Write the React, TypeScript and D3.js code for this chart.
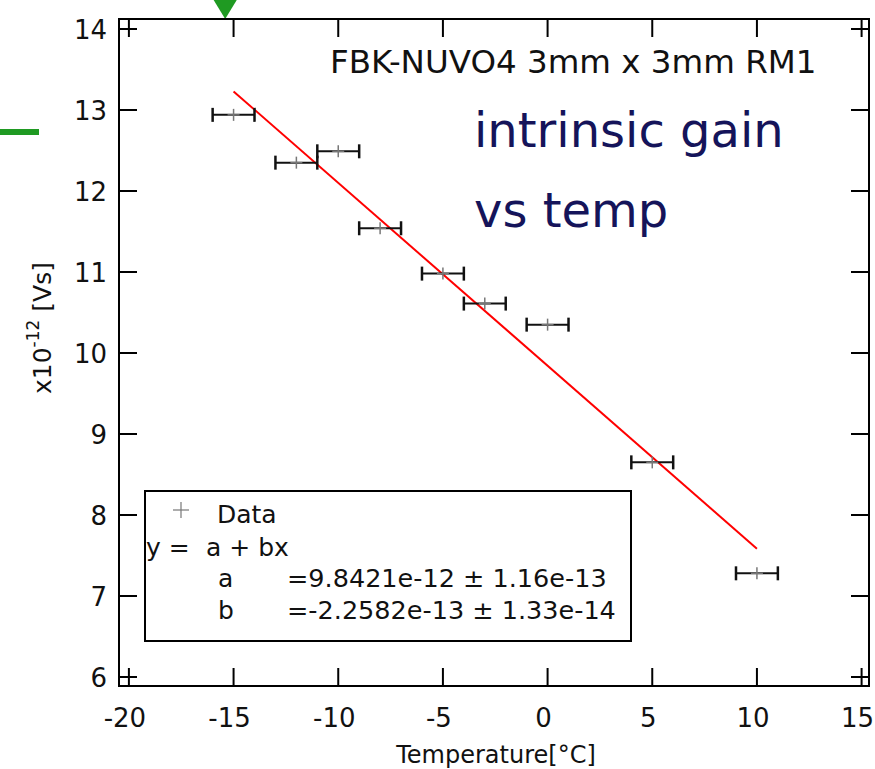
import React from "react";
import * as d3 from "d3";

const temps = [-15, -12, -10, -8, -5, -3, 0, 5, 10];
const gains = [12.94, 12.35, 12.49, 11.54, 10.98, 10.61, 10.35, 8.65, 7.28];
const tempErr = [1, 1, 1, 1, 1, 1, 1, 1, 1];
const xTicks = [-20, -15, -10, -5, 0, 5, 10, 15];
const yTicks = [6, 7, 8, 9, 10, 11, 12, 13, 14];
const fitA = 9.8421;
const fitB = -0.22582;
const fitRange = [-15, 10];
const legendLines = [
  "=9.8421e-12 ± 1.16e-13",
  "=-2.2582e-13 ± 1.33e-14",
];

const W = 875;
const H = 769;
const frame = { left: 119, right: 869, top: 19, bottom: 686 };
const FONT = "'DejaVu Sans', Verdana, sans-serif";

export default function App() {
  const x = d3.scaleLinear().domain([-20, 15]).range([128.9, 861.6]);
  const y = d3.scaleLinear().domain([6, 14]).range([677, 29]);
  const tl = 18;
  const line = d3
    .line<number>()
    .x((t) => x(t))
    .y((t) => y(fitA + fitB * t));

  return (
    <svg
      width={W}
      height={H}
      style={{ position: "absolute", left: 0, top: 0, display: "block", background: "#fff" }}
      fontFamily={FONT}
    >
      <rect x={0} y={0} width={W} height={H} fill="#fff" />
      {/* green annotations */}
      <polygon points={`${x(-15.4) - 14},-4 ${x(-15.4) + 14},-4 ${x(-15.4)},19`} fill="#1f9a22" />
      <rect x={0} y={129} width={39} height={6} fill="#1f9a22" />

      {/* frame */}
      <rect
        x={frame.left}
        y={frame.top}
        width={frame.right - frame.left}
        height={frame.bottom - frame.top}
        fill="none"
        stroke="#000"
        strokeWidth={2}
      />
      {/* ticks */}
      {xTicks.map((t) => (
        <g key={"xt" + t} stroke="#000" strokeWidth={2}>
          <line x1={x(t)} x2={x(t)} y1={frame.bottom} y2={frame.bottom - tl} />
          <line x1={x(t)} x2={x(t)} y1={frame.top} y2={frame.top + tl} />
        </g>
      ))}
      {yTicks.map((t) => (
        <g key={"yt" + t} stroke="#000" strokeWidth={2}>
          <line x1={frame.left} x2={frame.left + tl} y1={y(t)} y2={y(t)} />
          <line x1={frame.right} x2={frame.right - tl} y1={y(t)} y2={y(t)} />
        </g>
      ))}
      {xTicks.map((t) => (
        <text key={"xl" + t} x={x(t) - 4} y={727} fontSize={26} textAnchor="middle" fill="#111">
          {t}
        </text>
      ))}
      {yTicks.map((t) => (
        <text key={"yl" + t} x={107} y={y(t) + 9.5} fontSize={26} textAnchor="end" fill="#111">
          {t}
        </text>
      ))}

      {/* axis titles */}
      <text x={496} y={763} fontSize={24} textAnchor="middle" fill="#111">
        Temperature[°C]
      </text>
      <text transform="translate(51,328) rotate(-90)" fontSize={25} textAnchor="middle" fill="#111">
        x10
        <tspan fontSize={17} dy={-12}>-12</tspan>
        <tspan dy={12}> [Vs]</tspan>
      </text>

      {/* fit line */}
      <path d={line(fitRange) || ""} stroke="#ff0000" strokeWidth={2} fill="none" />

      {/* data with x error bars */}
      {temps.map((t, i) => {
        const cx = x(t);
        const cy = y(gains[i]);
        const x0 = x(t - tempErr[i]);
        const x1 = x(t + tempErr[i]);
        return (
          <g key={"p" + i}>
            <line x1={x0} x2={x1} y1={cy} y2={cy} stroke="#111" strokeWidth={2} />
            <line x1={x0} x2={x0} y1={cy - 7} y2={cy + 7} stroke="#111" strokeWidth={2.5} />
            <line x1={x1} x2={x1} y1={cy - 7} y2={cy + 7} stroke="#111" strokeWidth={2.5} />
            <line x1={cx - 6} x2={cx + 6} y1={cy} y2={cy} stroke="#777" strokeWidth={1.5} />
            <line x1={cx} x2={cx} y1={cy - 6} y2={cy + 6} stroke="#777" strokeWidth={1.5} />
          </g>
        );
      })}

      {/* title texts */}
      <text x={330} y={73} fontSize={32.5} fill="#111">
        FBK-NUVO4 3mm x 3mm RM1
      </text>
      <text x={474} y={147} fontSize={48} fill="#15145a">
        intrinsic gain
      </text>
      <text x={474} y={227} fontSize={48} fill="#15145a">
        vs temp
      </text>

      {/* legend */}
      <rect x={145} y={491} width={486} height={150} fill="#fff" stroke="#000" strokeWidth={2} />
      <line x1={173} x2={189} y1={510} y2={510} stroke="#777" strokeWidth={1.2} />
      <line x1={181} x2={181} y1={502} y2={518} stroke="#777" strokeWidth={1.2} />
      <text x={217} y={523} fontSize={25} fill="#111">Data</text>
      <text x={146} y={556} fontSize={25} fill="#111">y =</text>
      <text x={206} y={556} fontSize={25} fill="#111">a + bx</text>
      <text x={218} y={587} fontSize={25} fill="#111">a</text>
      <text x={287} y={587} fontSize={25.5} fill="#111">{legendLines[0]}</text>
      <text x={218} y={619} fontSize={25} fill="#111">b</text>
      <text x={287} y={619} fontSize={25.5} fill="#111">{legendLines[1]}</text>
    </svg>
  );
}
